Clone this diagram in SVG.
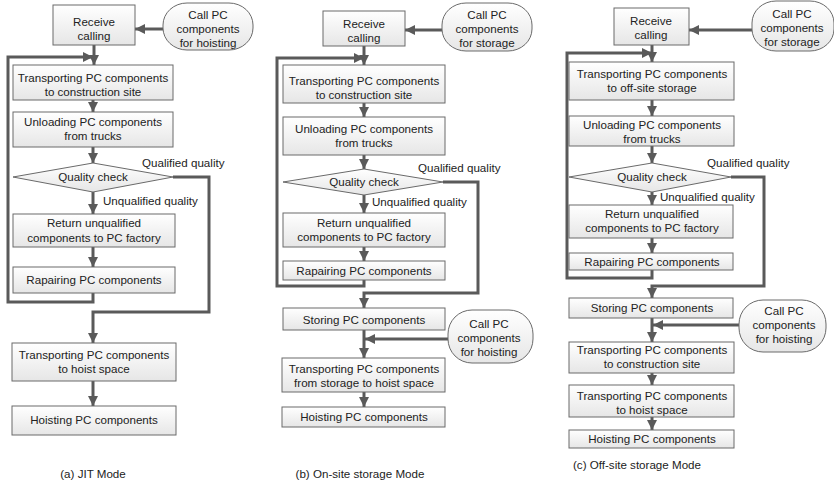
<svg xmlns="http://www.w3.org/2000/svg" width="834" height="484" viewBox="0 0 834 484">
<style>
.box{fill:url(#g);stroke:#6a6a6a;stroke-width:1}
.oval{fill:url(#g);stroke:#6a6a6a;stroke-width:1}
.t{font-family:"Liberation Sans",Arial,sans-serif;font-size:11.6px;fill:#222;text-anchor:middle}
.l{font-family:"Liberation Sans",Arial,sans-serif;font-size:11.6px;fill:#222}
.c{fill:none;stroke:#5a5a5a;stroke-width:3}
.a{marker-end:url(#ah)}
</style>
<defs>
<linearGradient id="g" x1="0" y1="0" x2="0" y2="1">
<stop offset="0" stop-color="#ffffff"/>
<stop offset="1" stop-color="#e6e6e6"/>
</linearGradient>
<marker id="ah" markerUnits="userSpaceOnUse" markerWidth="11" markerHeight="11" refX="10" refY="5" orient="auto">
<path d="M0,0 L10,5 L0,10 z" fill="#5a5a5a"/>
</marker>
</defs>

<g id="connectors">
<!-- (a) -->
<path class="c a" d="M163,29 H135"/>
<path class="c a" d="M94,45 V65"/>
<path class="c a" d="M93,100 V112"/>
<path class="c a" d="M93,147 V163"/>
<path class="c a" d="M173,177 H209 V312 H93 V343"/>
<path class="c a" d="M93,192 V214"/>
<path class="c a" d="M93,247 V267"/>
<path class="c a" d="M93,293 V302 H8 V57 H93"/>
<path class="c a" d="M93,381 V406"/>
<!-- (b) -->
<path class="c a" d="M442,30 H405"/>
<path class="c a" d="M364,46 V65"/>
<path class="c a" d="M364,103 V117"/>
<path class="c a" d="M364,155 V169"/>
<path class="c a" d="M443,182 H478 V293 H364 V308"/>
<path class="c a" d="M364,195 V213"/>
<path class="c a" d="M364,247 V261"/>
<path class="c a" d="M364,280 V286 H277 V58 H364"/>
<path class="c a" d="M448,339 H365"/>
<path class="c a" d="M364,330 V358"/>
<path class="c a" d="M364,392 V407"/>
<!-- (c) -->
<path class="c a" d="M752,30 H689"/>
<path class="c a" d="M652,45 V62"/>
<path class="c a" d="M652,100 V116"/>
<path class="c a" d="M652,146 V163"/>
<path class="c a" d="M731,177 H764 V286 H652 V298"/>
<path class="c a" d="M652,192 V205"/>
<path class="c a" d="M652,238 V253"/>
<path class="c a" d="M652,270 V278 H567 V53 H652"/>
<path class="c a" d="M739,325 H653"/>
<path class="c a" d="M652,318 V342"/>
<path class="c a" d="M652,373 V385"/>
<path class="c a" d="M652,417 V430"/>
</g>

<!-- (a) JIT -->
<g id="a_receive"><rect class="box" x="53" y="5" width="82" height="40"/><text class="t" x="94" y="26">Receive</text><text class="t" x="94" y="40">calling</text></g>
<g id="a_call"><rect class="oval" x="163" y="3" width="90" height="47" rx="24" ry="22"/><text class="t" x="208" y="19">Call PC</text><text class="t" x="208" y="33">components</text><text class="t" x="208" y="47">for hoisting</text></g>
<g id="a_transport"><rect class="box" x="13" y="65" width="160" height="35"/><text class="t" x="93" y="82">Transporting PC components</text><text class="t" x="93" y="96">to construction site</text></g>
<g id="a_unload"><rect class="box" x="13" y="112" width="160" height="35"/><text class="t" x="93" y="126">Unloading PC components</text><text class="t" x="93" y="140">from trucks</text></g>
<g id="a_check"><polygon class="box" points="13,177 93,163 173,177 93,192"/><text class="t" x="93" y="181">Quality check</text></g>
<g id="a_labels"><text class="l" x="142" y="167">Qualified quality</text><text class="l" x="103" y="205">Unqualified quality</text></g>
<g id="a_return"><rect class="box" x="13" y="214" width="162" height="33"/><text class="t" x="94" y="227">Return unqualified</text><text class="t" x="94" y="242">components to PC factory</text></g>
<g id="a_repair"><rect class="box" x="13" y="267" width="162" height="26"/><text class="t" x="94" y="284">Rapairing PC components</text></g>
<g id="a_hoistspace"><rect class="box" x="12" y="343" width="164" height="38"/><text class="t" x="94" y="359">Transporting PC components</text><text class="t" x="94" y="373">to hoist space</text></g>
<g id="a_hoisting"><rect class="box" x="12" y="406" width="164" height="29"/><text class="t" x="94" y="424">Hoisting PC components</text></g>
<g id="a_caption"><text class="t" x="93" y="478">(a) JIT Mode</text></g>

<!-- (b) On-site -->
<g id="b_receive"><rect class="box" x="323" y="11" width="82" height="35"/><text class="t" x="364" y="28">Receive</text><text class="t" x="364" y="42">calling</text></g>
<g id="b_call"><rect class="oval" x="442" y="3" width="90" height="48" rx="24" ry="22"/><text class="t" x="487" y="19">Call PC</text><text class="t" x="487" y="33">components</text><text class="t" x="487" y="47">for storage</text></g>
<g id="b_transport"><rect class="box" x="283" y="65" width="162" height="38"/><text class="t" x="364" y="85">Transporting PC components</text><text class="t" x="364" y="99">to construction site</text></g>
<g id="b_unload"><rect class="box" x="283" y="117" width="162" height="38"/><text class="t" x="364" y="133">Unloading PC components</text><text class="t" x="364" y="147">from trucks</text></g>
<g id="b_check"><polygon class="box" points="283,182 364,169 443,182 364,195"/><text class="t" x="364" y="186">Quality check</text></g>
<g id="b_labels"><text class="l" x="418" y="172">Qualified quality</text><text class="l" x="372" y="206">Unqualified quality</text></g>
<g id="b_return"><rect class="box" x="283" y="213" width="162" height="34"/><text class="t" x="364" y="227">Return unqualified</text><text class="t" x="364" y="241">components to PC factory</text></g>
<g id="b_repair"><rect class="box" x="283" y="261" width="162" height="19"/><text class="t" x="364" y="275">Rapairing PC components</text></g>
<g id="b_store"><rect class="box" x="283" y="308" width="162" height="22"/><text class="t" x="364" y="324">Storing PC components</text></g>
<g id="b_call2"><rect class="oval" x="448" y="310" width="85" height="53" rx="24" ry="24"/><text class="t" x="489" y="328">Call PC</text><text class="t" x="489" y="342">components</text><text class="t" x="489" y="356">for hoisting</text></g>
<g id="b_transport2"><rect class="box" x="282" y="358" width="163" height="34"/><text class="t" x="364" y="373">Transporting PC components</text><text class="t" x="364" y="387">from storage to hoist space</text></g>
<g id="b_hoisting"><rect class="box" x="282" y="407" width="163" height="20"/><text class="t" x="364" y="421">Hoisting PC components</text></g>
<g id="b_caption"><text class="t" x="360" y="478">(b) On-site storage Mode</text></g>

<!-- (c) Off-site -->
<g id="c_receive"><rect class="box" x="614" y="8" width="75" height="37"/><text class="t" x="651" y="25">Receive</text><text class="t" x="651" y="39">calling</text></g>
<g id="c_call"><rect class="oval" x="752" y="1" width="82" height="50" rx="24" ry="22"/><text class="t" x="792" y="18">Call PC</text><text class="t" x="792" y="32">components</text><text class="t" x="792" y="46">for storage</text></g>
<g id="c_transport"><rect class="box" x="569" y="62" width="165" height="38"/><text class="t" x="652" y="78">Transporting PC components</text><text class="t" x="652" y="92">to off-site storage</text></g>
<g id="c_unload"><rect class="box" x="569" y="116" width="165" height="30"/><text class="t" x="652" y="129">Unloading PC components</text><text class="t" x="652" y="143">from trucks</text></g>
<g id="c_check"><polygon class="box" points="569,177 652,163 731,177 652,192"/><text class="t" x="652" y="181">Quality check</text></g>
<g id="c_labels"><text class="l" x="707" y="167">Qualified quality</text><text class="l" x="660" y="201">Unqualified quality</text></g>
<g id="c_return"><rect class="box" x="569" y="205" width="164" height="33"/><text class="t" x="652" y="218">Return unqualified</text><text class="t" x="652" y="232">components to PC factory</text></g>
<g id="c_repair"><rect class="box" x="569" y="253" width="164" height="17"/><text class="t" x="652" y="266">Rapairing PC components</text></g>
<g id="c_store"><rect class="box" x="569" y="298" width="164" height="20"/><text class="t" x="652" y="312">Storing PC components</text></g>
<g id="c_call2"><rect class="oval" x="739" y="300" width="87" height="52" rx="24" ry="24"/><text class="t" x="784" y="315">Call PC</text><text class="t" x="784" y="329">components</text><text class="t" x="784" y="343">for hoisting</text></g>
<g id="c_transport2"><rect class="box" x="569" y="342" width="165" height="31"/><text class="t" x="652" y="354">Transporting PC components</text><text class="t" x="652" y="368">to construction site</text></g>
<g id="c_hoistspace"><rect class="box" x="569" y="385" width="165" height="32"/><text class="t" x="652" y="400">Transporting PC components</text><text class="t" x="652" y="414">to hoist space</text></g>
<g id="c_hoisting"><rect class="box" x="569" y="430" width="165" height="18"/><text class="t" x="652" y="443">Hoisting PC components</text></g>
<g id="c_caption"><text class="t" x="637" y="469">(c) Off-site storage Mode</text></g>
</svg>
